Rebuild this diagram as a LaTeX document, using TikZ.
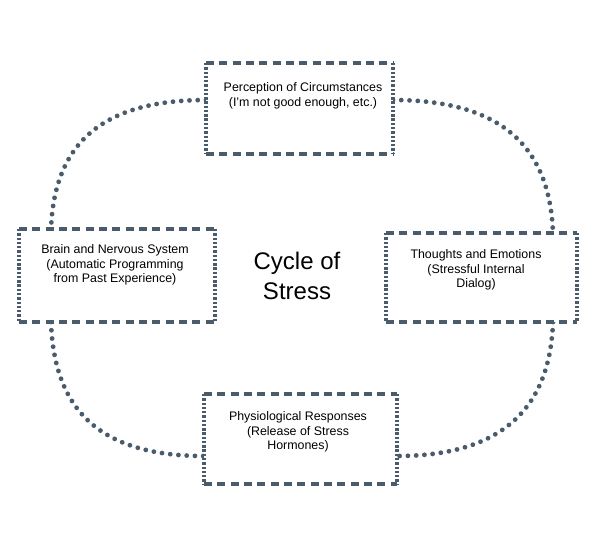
\documentclass[tikz,border=0pt]{standalone}
\usepackage{fontspec}
\setmainfont{Liberation Sans}
\begin{document}
\begin{tikzpicture}[x=0.75pt,y=-0.75pt,
  dots/.style={draw=slate,line width=3.6pt,line cap=round,dash pattern=on 0pt off 6.2pt},
  hdash/.style={draw=slate,line width=2.4pt,dash pattern=on 6pt off 4pt},
  vdot/.style={draw=slate,line width=2.4pt,dash pattern=on 1.8pt off 1.4pt},
  lbl/.style={font=\fontsize{9.3}{10.8}\selectfont,align=center,anchor=north}]
\definecolor{slate}{HTML}{4A5C6C}
\useasboundingbox (0,0) rectangle (600,540);
\coordinate (tl) at (206,100); \coordinate (tr) at (393,100);
\coordinate (lt) at (51,229);  \coordinate (lb) at (51,322);
\coordinate (rt) at (553,233); \coordinate (rb) at (553,322);
\coordinate (bl) at (204,456); \coordinate (br) at (397,456);
\draw[dots] (tl) .. controls (95,100) and (54,150) .. (lt);
\draw[dots] (lb) .. controls (54,410) and (100,456) .. (bl);
\draw[dots] (tr) .. controls (505,100) and (550,150) .. (rt);
\draw[dots] (rb) .. controls (550,410) and (500,456) .. (br);
\newcommand{\mybox}[4]{%
  \fill[white] (#1,#2) rectangle (#3,#4);
  \draw[hdash] (#1,#2) -- (#3,#2);
  \draw[hdash] (#1,#4) -- (#3,#4);
  \draw[vdot] (#1,#2) -- (#1,#4);
  \draw[vdot] (#3,#2) -- (#3,#4);}
\mybox{206}{63}{393}{154}
\mybox{19}{229}{215}{322}
\mybox{386}{233}{577}{322}
\mybox{204}{394}{397}{484}
\node[lbl] (t) at (303,78) {Perception of Circumstances\\(I'm not good enough, etc.)};
\node[lbl] (l) at (115,240) {Brain and Nervous System\\(Automatic Programming\\from Past Experience)};
\node[lbl] (r) at (476,245) {Thoughts and Emotions\\(Stressful Internal\\Dialog)};
\node[lbl] (b) at (298,407) {Physiological Responses\\(Release of Stress\\Hormones)};
\node[font=\fontsize{18}{22}\selectfont,align=center] (c) at (297,276) {Cycle of\\Stress};
\end{tikzpicture}
\end{document}
